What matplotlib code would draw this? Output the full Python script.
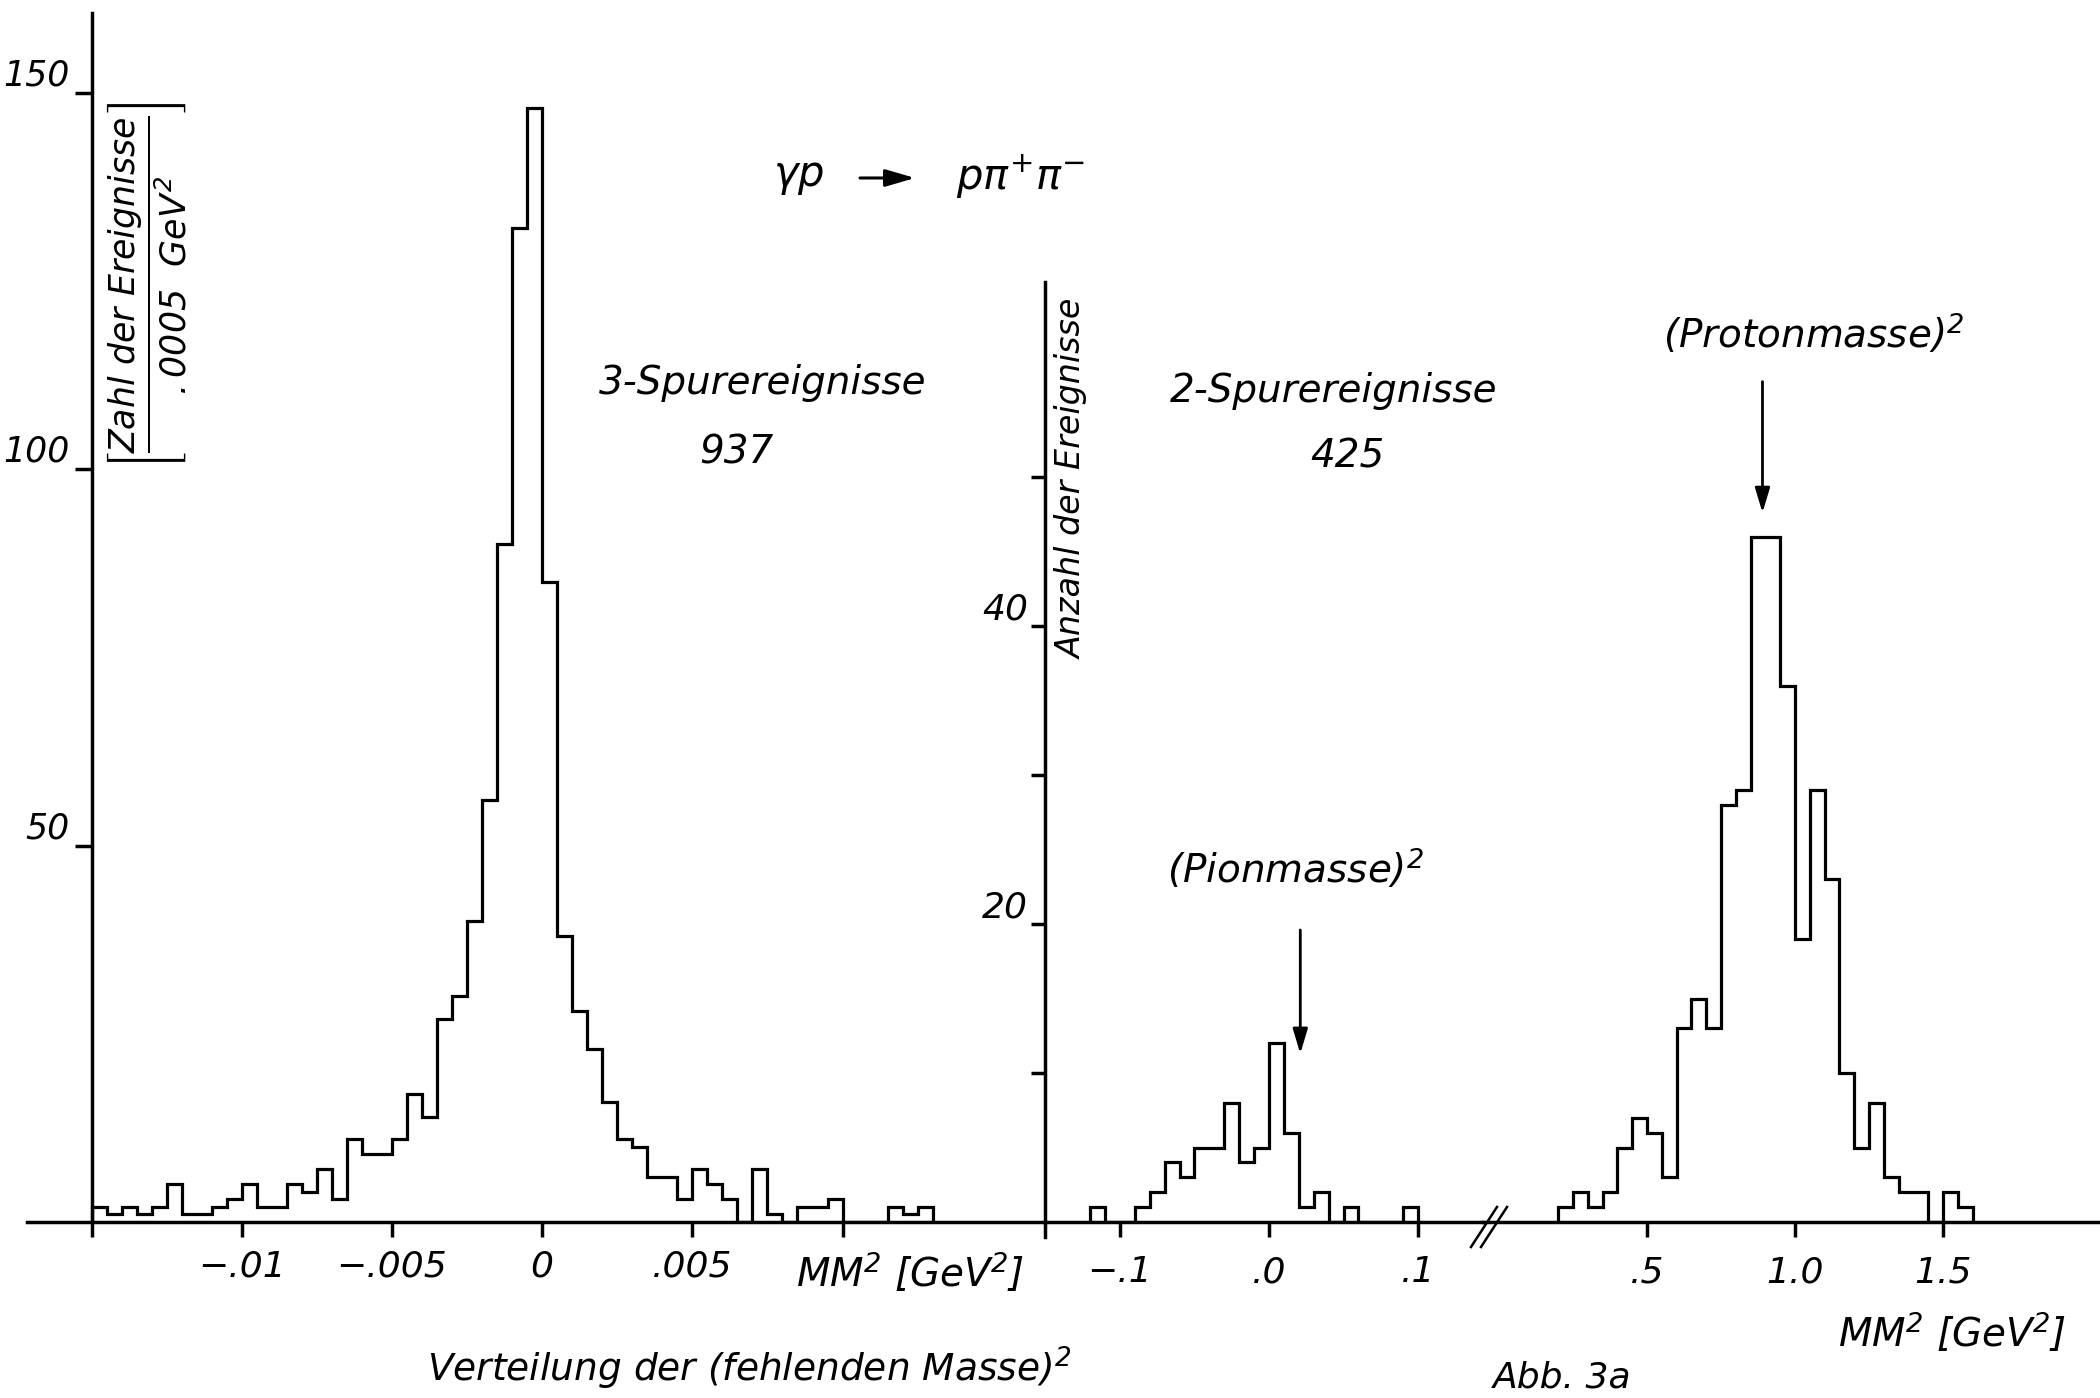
import matplotlib
matplotlib.use("Agg")
import matplotlib.pyplot as plt
import numpy as np
from matplotlib.lines import Line2D

plt.rcParams['font.family'] = 'DejaVu Sans'
plt.rcParams['font.style'] = 'italic'
plt.rcParams['mathtext.default'] = 'it'

# 3-Spurereignisse: Bins von .0005 GeV^2 ab -0.015
three_start = -0.015
three_width = 0.0005
three_counts = [2, 1, 2, 1, 2, 5, 1, 1, 2, 3,
                5, 2, 2, 5, 4, 7, 3, 11, 9, 9,
                11, 17, 14, 27, 30, 40, 56, 90, 132, 148,
                85, 38, 28, 23, 16, 11, 10, 6, 6, 3,
                7, 5, 3, 0, 7, 1, 0, 2, 2, 3,
                0, 0, 0, 2, 1, 2]

# 2-Spurereignisse, Pionbereich: Bins von .01 GeV^2 ab -0.12
pion_start = -0.12
pion_width = 0.01
pion_counts = [1, 0, 0, 1, 2, 4, 3, 5, 5, 8, 4,
               5, 12, 6, 1, 2, 0, 1, 0, 0, 0, 1]

# 2-Spurereignisse, Protonbereich: Bins von .05 GeV^2 ab 0.20
proton_start = 0.20
proton_width = 0.05
proton_counts = [1, 2, 1, 2, 5, 7, 6, 3, 13, 15, 13, 28, 29, 46,
                 46, 36, 19, 29, 23, 10, 5, 8, 3, 2, 2, 0, 2, 1]

three_ticks = [-0.015, -0.01, -0.005, 0, 0.005, 0.01]
three_ticklabels = ['', '\u2212.01', '\u2212.005', '0', '.005', '']
three_yticks = [50, 100, 150]
pion_ticks = [-0.1, 0, 0.1]
pion_ticklabels = ['\u2212.1', '.0', '.1']
proton_ticks = [0.5, 1.0, 1.5]
proton_ticklabels = ['.5', '1.0', '1.5']
right_yticks = [10, 20, 30, 40, 50]
right_yticklabels = ['', '20', '', '40', '']

pion_mass2 = 0.021
proton_mass2 = 0.89


def edges(start, width, n):
    return np.round(start + width * np.arange(n + 1), 6)


W, H = 2100, 1398
fig = plt.figure(figsize=(W / 100, H / 100), dpi=100)
fig.patch.set_facecolor('white')

TOP, BASE = 13, 1222
lw_axis = 2.5
lw_hist = 2.3


def px_axes(x0, x1):
    ax = fig.add_axes([x0 / W, 1 - BASE / H, (x1 - x0) / W, (BASE - TOP) / H])
    ax.patch.set_alpha(0)
    for s in ['top', 'right']:
        ax.spines[s].set_visible(False)
    for s in ax.spines.values():
        s.set_linewidth(lw_axis)
    return ax


def ftext(x, y, s, **kw):
    kw.setdefault('ha', 'center')
    kw.setdefault('va', 'center')
    kw.setdefault('fontsize', 28)
    fig.text(x / W, 1 - y / H, s, **kw)


arrow_style = dict(arrowstyle='-|>,head_length=1.0,head_width=0.3',
                   lw=2, color='black', shrinkA=0, shrinkB=0, mutation_scale=15)

# left panel: 3-Spurereignisse
ax1 = px_axes(27, 1045)
ax1.set_xlim(-0.01715, 0.01674)
ax1.set_ylim(0, (BASE - TOP) / 7.53)
ax1.spines['left'].set_position(('data', -0.015))
ax1.stairs(three_counts, edges(three_start, three_width, len(three_counts)),
           color='black', lw=lw_hist)
ax1.set_xticks(three_ticks)
ax1.set_xticklabels(three_ticklabels)
ax1.set_yticks(three_yticks)
ax1.tick_params(axis='x', direction='out', length=11, width=lw_axis, pad=9, labelsize=26)
ax1.tick_params(axis='y', direction='out', length=12, width=lw_axis, pad=4, labelsize=25)
for lab in ax1.get_yticklabels():
    lab.set_va('bottom')

# right panel, pion part
ax2 = px_axes(1045, 1483)
ax2.set_xlim(-0.1503, 0.1436)
ax2.set_ylim(0, (BASE - TOP) / 14.9)
ax2.spines['left'].set_bounds(-1.0, 63.1)
ax2.stairs(pion_counts, edges(pion_start, pion_width, len(pion_counts)),
           color='black', lw=lw_hist)
ax2.set_xticks(pion_ticks)
ax2.set_xticklabels(pion_ticklabels)
ax2.set_yticks(right_yticks)
ax2.set_yticklabels(right_yticklabels)
ax2.tick_params(axis='x', direction='out', length=11, width=lw_axis, pad=13, labelsize=26)
ax2.tick_params(axis='y', direction='out', length=10, width=lw_axis, pad=2, labelsize=26)
for lab in ax2.get_yticklabels():
    lab.set_va('bottom')
ax2.annotate('', xy=(pion_mass2, 11.3), xytext=(pion_mass2, 19.6),
             arrowprops=arrow_style)

# right panel, proton part
ax3 = px_axes(1483, 2100)
ax3.spines['left'].set_visible(False)
ax3.set_xlim(-0.054, 2.030)
ax3.set_ylim(0, (BASE - TOP) / 14.9)
ax3.stairs(proton_counts, edges(proton_start, proton_width, len(proton_counts)),
           color='black', lw=lw_hist)
ax3.set_xticks(proton_ticks)
ax3.set_xticklabels(proton_ticklabels)
ax3.set_yticks([])
ax3.tick_params(axis='x', direction='out', length=11, width=lw_axis, pad=13, labelsize=26)
ax3.annotate('', xy=(proton_mass2, 47.6), xytext=(proton_mass2, 56.4),
             arrowprops=arrow_style)

# axis break //
for dx in (0, 10):
    fig.add_artist(Line2D([(1471 + dx) / W, (1497 + dx) / W],
                          [1 - 1247 / H, 1 - 1207 / H],
                          transform=fig.transFigure, color='black', lw=1.8))

# labels
ftext(146, 286, r'$\left[\dfrac{Zahl\ der\ Ereignisse}{.0005\ \ GeV^{2}}\right]$',
      rotation=90, fontsize=25)
ftext(1072, 479, 'Anzahl der Ereignisse', rotation=90, fontsize=24)

# reaction: gamma p -> p pi+ pi-
ftext(799, 176, r'$\gamma p$', fontsize=30)
ax1.annotate('', xy=(915, H - 178), xytext=(860, H - 178),
             xycoords='figure pixels', textcoords='figure pixels',
             arrowprops=dict(arrowstyle='-|>,head_length=1.2,head_width=0.35',
                             lw=2.2, color='black', shrinkA=0, shrinkB=0,
                             mutation_scale=15))
ftext(1021, 176, r'$p\pi^{+}\pi^{-}$', fontsize=30)

ftext(763, 383, '3-Spurereignisse')
ftext(736, 452, '937')
ftext(1334, 391, '2-Spurereignisse')
ftext(1347, 457, '425')
ftext(1296, 869, r'(Pionmasse)$^2$')
ftext(1814, 334, r'(Protonmasse)$^2$')
ftext(910, 1273, r'MM$^2$ [GeV$^2$]')
ftext(1952, 1333, r'MM$^2$ [GeV$^2$]')
ftext(749, 1368, r'Verteilung der (fehlenden Masse)$^2$', fontsize=27)
ftext(1562, 1378, 'Abb. 3a', fontsize=26)

fig.savefig('out.png', dpi=100, facecolor='white')
